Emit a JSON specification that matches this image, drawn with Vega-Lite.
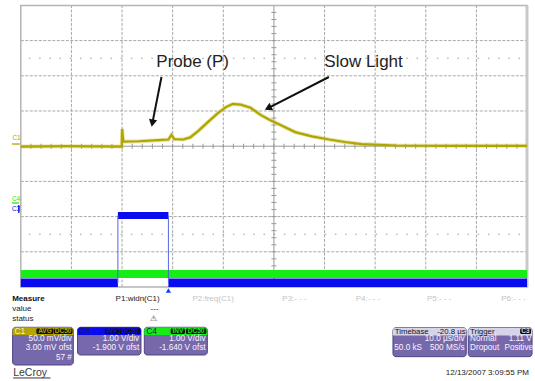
{
  "$schema": "https://vega.github.io/schema/vega-lite/v6.json",
  "width": 535,
  "height": 381,
  "padding": 0,
  "autosize": {"type": "fit", "contains": "padding"},
  "background": "white",
  "config": {"view": {"stroke": null}, "text": {"font": "Liberation Sans"}},
  "datasets": {
    "vgrid": [{"t": -19.2}, {"t": -9.2}, {"t": 0.8}, {"t": 10.8}, {"t": 30.8}, {"t": 40.8}, {"t": 50.8}, {"t": 60.8}],
    "hgrid": [{"v": -3}, {"v": -2}, {"v": -1}, {"v": 1}, {"v": 2}, {"v": 3}],
    "refs": [{"v": 2.5}, {"v": -2.5}],
    "xticks": [{"t": -27.2}, {"t": -25.2}, {"t": -23.2}, {"t": -21.2}, {"t": -19.2}, {"t": -17.2}, {"t": -15.2}, {"t": -13.2}, {"t": -11.2}, {"t": -9.2}, {"t": -7.2}, {"t": -5.2}, {"t": -3.2}, {"t": -1.2}, {"t": 0.8}, {"t": 2.8}, {"t": 4.8}, {"t": 6.8}, {"t": 8.8}, {"t": 10.8}, {"t": 12.8}, {"t": 14.8}, {"t": 16.8}, {"t": 18.8}, {"t": 20.8}, {"t": 22.8}, {"t": 24.8}, {"t": 26.8}, {"t": 28.8}, {"t": 30.8}, {"t": 32.8}, {"t": 34.8}, {"t": 36.8}, {"t": 38.8}, {"t": 40.8}, {"t": 42.8}, {"t": 44.8}, {"t": 46.8}, {"t": 48.8}, {"t": 50.8}, {"t": 52.8}, {"t": 54.8}, {"t": 56.8}, {"t": 58.8}, {"t": 60.8}, {"t": 62.8}, {"t": 64.8}, {"t": 66.8}, {"t": 68.8}],
    "yticks": [{"v": -3.8}, {"v": -3.6}, {"v": -3.4}, {"v": -3.2}, {"v": -3.0}, {"v": -2.8}, {"v": -2.6}, {"v": -2.4}, {"v": -2.2}, {"v": -2.0}, {"v": -1.8}, {"v": -1.6}, {"v": -1.4}, {"v": -1.2}, {"v": -1.0}, {"v": -0.8}, {"v": -0.6}, {"v": -0.4}, {"v": -0.2}, {"v": 0.2}, {"v": 0.4}, {"v": 0.6}, {"v": 0.8}, {"v": 1.0}, {"v": 1.2}, {"v": 1.4}, {"v": 1.6}, {"v": 1.8}, {"v": 2.0}, {"v": 2.2}, {"v": 2.4}, {"v": 2.6}, {"v": 2.8}, {"v": 3.0}, {"v": 3.2}, {"v": 3.4}, {"v": 3.6}, {"v": 3.8}],
    "yellow": [
      {"t": -29.2, "v": -0.01}, {"t": -20.0, "v": 0.0}, {"t": -9.25, "v": -0.01}, {"t": -9.18, "v": 0.49}, {"t": -8.95, "v": 0.13},
      {"t": -5.91, "v": 0.14}, {"t": -2.0, "v": 0.17}, {"t": -0.04, "v": 0.19}, {"t": 0.55, "v": 0.32}, {"t": 1.13, "v": 0.2},
      {"t": 2.89, "v": 0.19}, {"t": 4.26, "v": 0.25}, {"t": 5.83, "v": 0.43}, {"t": 7.79, "v": 0.69}, {"t": 9.74, "v": 0.94},
      {"t": 11.31, "v": 1.11}, {"t": 12.68, "v": 1.2}, {"t": 14.24, "v": 1.18}, {"t": 16.2, "v": 1.09}, {"t": 18.16, "v": 0.89},
      {"t": 20.1, "v": 0.74}, {"t": 22.1, "v": 0.6}, {"t": 25.0, "v": 0.4}, {"t": 28.3, "v": 0.28}, {"t": 31.7, "v": 0.19},
      {"t": 34.8, "v": 0.12}, {"t": 38.1, "v": 0.06}, {"t": 45.0, "v": 0.02}, {"t": 54.8, "v": 0.01}, {"t": 70.8, "v": 0.01}
    ],
    "bands": [
      {"ch": "C4", "t": -29.2, "t2": 70.8, "v": -3.517, "v2": -3.744},
      {"ch": "C3", "t": -29.2, "t2": -10.02, "v": -3.758, "v2": -4.0},
      {"ch": "C3", "t": -0.04, "t2": 70.8, "v": -3.758, "v2": -4.0},
      {"ch": "C3", "t": -10.02, "t2": -0.04, "v": -1.869, "v2": -2.068}
    ],
    "edges": [{"t": -10.02, "v": -3.88, "v2": -1.97}, {"t": -0.04, "v": -3.88, "v2": -1.97}],
    "markers": [
      {"ch": "C1", "t": -30.96, "t2": -29.4, "v": 0.062, "v2": 0.062},
      {"ch": "C4", "t": -30.96, "t2": -29.59, "v": -1.614, "v2": -1.614},
      {"ch": "C3", "t": -29.59, "t2": -29.59, "v": -1.67, "v2": -1.898}
    ],
    "chlabels": [
      {"label": "C1", "ch": "C1", "t": -30.86, "v": 0.176},
      {"label": "C4", "ch": "C4", "t": -30.96, "v": -1.557},
      {"label": "C3", "ch": "C3", "t": -30.96, "v": -1.841}
    ],
    "notes": [
      {"label": "Probe (P)", "t": 4.75, "v": 2.241},
      {"label": "Slow Light", "t": 38.51, "v": 2.241}
    ],
    "arrows": [
      {"t": -1.41, "v": 1.966, "t2": -3.21, "v2": 0.656},
      {"t": 31.66, "v": 1.966, "t2": 19.65, "v2": 1.079}
    ],
    "boxes": [
      {"t": -30.82, "t2": -18.83, "v": -5.145, "v2": -6.216},
      {"t": -17.99, "t2": -5.46, "v": -5.145, "v2": -5.932},
      {"t": -4.8, "t2": 7.65, "v": -5.145, "v2": -5.932},
      {"t": 44.32, "t2": 58.8, "v": -5.156, "v2": -5.98},
      {"t": 59.19, "t2": 71.8, "v": -5.156, "v2": -5.98}
    ],
    "heads": [
      {"ch": "C1", "t": -30.82, "t2": -18.83, "v": -5.145, "v2": -5.364},
      {"ch": "C3", "t": -17.99, "t2": -5.46, "v": -5.145, "v2": -5.364},
      {"ch": "C4", "t": -4.8, "t2": 7.65, "v": -5.145, "v2": -5.364},
      {"ch": "TB", "t": 44.32, "t2": 58.8, "v": -5.156, "v2": -5.378},
      {"ch": "TB", "t": 59.19, "t2": 71.8, "v": -5.156, "v2": -5.378}
    ],
    "tags": [
      {"t": -26.13, "t2": -22.74}, {"t": -22.68, "t2": -18.98},
      {"t": -12.62, "t2": -9.83}, {"t": -9.69, "t2": -5.62},
      {"t": 0.41, "t2": 3.23}, {"t": 3.42, "t2": 7.45},
      {"t": 69.43, "t2": 71.6}
    ],
    "tagtext": [
      {"label": "AVG", "ch": "C1", "t": -24.43}, {"label": "DC50", "ch": "C1", "t": -20.83},
      {"label": "INV", "ch": "C3", "t": -11.22}, {"label": "DC50", "ch": "C3", "t": -7.65},
      {"label": "INV", "ch": "C4", "t": 1.82}, {"label": "DC50", "ch": "C4", "t": 5.43},
      {"label": "C3", "ch": "TB", "t": 70.5}
    ],
    "hdr_c1": [{"label": "C1", "t": -30.47, "v": -5.25}],
    "hdr_c34": [{"label": "C3", "t": -17.65, "v": -5.25}, {"label": "C4", "t": -4.44, "v": -5.25}],
    "hdr_tb_left": [{"label": "Timebase", "t": 44.67, "v": -5.267}, {"label": "Trigger", "t": 59.55, "v": -5.267}],
    "hdr_tb_right": [{"label": "-20.8 µs", "t": 58.67, "v": -5.267}],
    "body_right": [
      {"label": "50.0 mV/div", "t": -19.12, "v": -5.486}, {"label": "3.00 mV ofst", "t": -19.12, "v": -5.741}, {"label": "57 #", "t": -19.12, "v": -6.025},
      {"label": "1.00 V/div", "t": -5.81, "v": -5.486}, {"label": "-1.900 V ofst", "t": -5.81, "v": -5.741},
      {"label": "1.00 V/div", "t": 7.3, "v": -5.486}, {"label": "-1.640 V ofst", "t": 7.3, "v": -5.741},
      {"label": "10.0 µs/div", "t": 58.46, "v": -5.486}, {"label": "500 MS/s", "t": 58.46, "v": -5.741},
      {"label": "1.11 V", "t": 71.75, "v": -5.486}, {"label": "Positive", "t": 72.0, "v": -5.741}
    ],
    "body_left": [
      {"label": "50.0 kS", "t": 44.58, "v": -5.741}, {"label": "Normal", "t": 59.55, "v": -5.486}, {"label": "Dropout", "t": 59.55, "v": -5.741}
    ],
    "measure": [{"label": "Measure", "t": -30.9, "v": -4.35}],
    "ptext_dark": [
      {"label": "value", "t": -30.9, "v": -4.634}, {"label": "status", "t": -30.9, "v": -4.918},
      {"label": "P1:widn(C1)", "t": -10.47, "v": -4.35}, {"label": "---", "t": -3.56, "v": -4.634}
    ],
    "ptext_gray": [
      {"label": "P2:freq(C1)", "t": 4.71, "v": -4.35}, {"label": "P3:- - -", "t": 22.46, "v": -4.35},
      {"label": "P4:- - -", "t": 36.95, "v": -4.35}, {"label": "P5:- - -", "t": 51.03, "v": -4.35},
      {"label": "P6:- - -", "t": 65.71, "v": -4.35}
    ],
    "warn": [{"label": "⚠", "t": -2.98, "v": -4.918}],
    "logo": [{"label": "LeCroy", "t": -30.71, "v": -6.435}],
    "logoline": [{"t": -30.71, "t2": -23.33, "v": -6.585}],
    "date": [{"label": "12/13/2007 3:09:55 PM", "t": 71.19, "v": -6.452}],
    "trig": [{"t": -0.04, "v": -4.099}],
    "frame": [{"t": -29.2, "t2": 70.8, "v": -4, "v2": 4}]
  },
  "layer": [
    {
      "data": {"name": "vgrid"},
      "mark": {"type": "rule", "color": "#a8a8a8", "strokeWidth": 1, "strokeDash": [3, 1.5]},
      "encoding": {
        "x": {"field": "t", "type": "quantitative", "scale": {"domain": [-33.31, 71.39], "nice": false, "zero": false}, "axis": null},
        "y": {"datum": -4, "type": "quantitative", "scale": {"domain": [-6.671, 4.1534], "nice": false, "zero": false}, "axis": null},
        "y2": {"datum": 4}
      }
    },
    {
      "data": {"name": "hgrid"},
      "mark": {"type": "rule", "color": "#a8a8a8", "strokeWidth": 1, "strokeDash": [3, 1.5]},
      "encoding": {
        "y": {"field": "v", "type": "quantitative", "scale": {"domain": [-6.671, 4.1534], "nice": false, "zero": false}, "axis": null},
        "x": {"datum": -29.2, "type": "quantitative", "scale": {"domain": [-33.31, 71.39], "nice": false, "zero": false}, "axis": null},
        "x2": {"datum": 70.8}
      }
    },
    {
      "data": {"name": "refs"},
      "mark": {"type": "rule", "color": "#9a9a9a", "strokeWidth": 1, "strokeDash": [1.5, 8.7]},
      "encoding": {
        "y": {"field": "v", "type": "quantitative", "scale": {"domain": [-6.671, 4.1534], "nice": false, "zero": false}, "axis": null},
        "x": {"datum": -27.6, "type": "quantitative", "scale": {"domain": [-33.31, 71.39], "nice": false, "zero": false}, "axis": null},
        "x2": {"datum": 70.8}
      }
    },
    {
      "data": {"values": [{"t": 20.8}]},
      "mark": {"type": "rule", "color": "#999999", "strokeWidth": 1},
      "encoding": {
        "x": {"field": "t", "type": "quantitative", "scale": {"domain": [-33.31, 71.39], "nice": false, "zero": false}, "axis": null},
        "y": {"datum": -4, "type": "quantitative", "scale": {"domain": [-6.671, 4.1534], "nice": false, "zero": false}, "axis": null},
        "y2": {"datum": 4}
      }
    },
    {
      "data": {"values": [{"v": 0}]},
      "mark": {"type": "rule", "color": "#999999", "strokeWidth": 1},
      "encoding": {
        "y": {"field": "v", "type": "quantitative", "scale": {"domain": [-6.671, 4.1534], "nice": false, "zero": false}, "axis": null},
        "x": {"datum": -29.2, "type": "quantitative", "scale": {"domain": [-33.31, 71.39], "nice": false, "zero": false}, "axis": null},
        "x2": {"datum": 70.8}
      }
    },
    {
      "data": {"name": "xticks"},
      "mark": {"type": "tick", "orient": "vertical", "size": 5, "thickness": 1, "color": "#999999", "opacity": 1},
      "encoding": {
        "x": {"field": "t", "type": "quantitative", "scale": {"domain": [-33.31, 71.39], "nice": false, "zero": false}, "axis": null},
        "y": {"datum": 0, "type": "quantitative", "scale": {"domain": [-6.671, 4.1534], "nice": false, "zero": false}, "axis": null}
      }
    },
    {
      "data": {"name": "yticks"},
      "mark": {"type": "tick", "orient": "horizontal", "size": 5, "thickness": 1, "color": "#999999", "opacity": 1},
      "encoding": {
        "y": {"field": "v", "type": "quantitative", "scale": {"domain": [-6.671, 4.1534], "nice": false, "zero": false}, "axis": null},
        "x": {"datum": 20.8, "type": "quantitative", "scale": {"domain": [-33.31, 71.39], "nice": false, "zero": false}, "axis": null}
      }
    },
    {
      "data": {"name": "frame"},
      "mark": {"type": "rect", "fill": null, "stroke": "#b4b4b4", "strokeWidth": 1.5},
      "encoding": {
        "x": {"field": "t", "type": "quantitative", "scale": {"domain": [-33.31, 71.39], "nice": false, "zero": false}, "axis": null},
        "x2": {"field": "t2"},
        "y": {"field": "v", "type": "quantitative", "scale": {"domain": [-6.671, 4.1534], "nice": false, "zero": false}, "axis": null},
        "y2": {"field": "v2"}
      }
    },
    {
      "data": {"name": "frame"},
      "mark": {"type": "rule", "color": "#c8c8c8", "strokeWidth": 3},
      "encoding": {
        "x": {"field": "t2", "type": "quantitative", "scale": {"domain": [-33.31, 71.39], "nice": false, "zero": false}, "axis": null},
        "y": {"field": "v", "type": "quantitative", "scale": {"domain": [-6.671, 4.1534], "nice": false, "zero": false}, "axis": null},
        "y2": {"field": "v2"}
      }
    },
    {
      "data": {"name": "bands"},
      "mark": {"type": "rect"},
      "encoding": {
        "x": {"field": "t", "type": "quantitative", "scale": {"domain": [-33.31, 71.39], "nice": false, "zero": false}, "axis": null},
        "x2": {"field": "t2"},
        "y": {"field": "v", "type": "quantitative", "scale": {"domain": [-6.671, 4.1534], "nice": false, "zero": false}, "axis": null},
        "y2": {"field": "v2"},
        "color": {"field": "ch", "type": "nominal", "scale": {"domain": ["C1", "C3", "C4", "TB"], "range": ["#b4a500", "#0a0af0", "#14ee14", "#d6d4ea"]}, "legend": null}
      }
    },
    {
      "data": {"name": "edges"},
      "mark": {"type": "rule", "color": "#5566dd", "strokeWidth": 1},
      "encoding": {
        "x": {"field": "t", "type": "quantitative", "scale": {"domain": [-33.31, 71.39], "nice": false, "zero": false}, "axis": null},
        "y": {"field": "v", "type": "quantitative", "scale": {"domain": [-6.671, 4.1534], "nice": false, "zero": false}, "axis": null},
        "y2": {"field": "v2"}
      }
    },
    {
      "data": {"name": "yellow"},
      "mark": {"type": "line", "color": "#c8c040", "strokeWidth": 4, "opacity": 0.45},
      "encoding": {
        "x": {"field": "t", "type": "quantitative", "scale": {"domain": [-33.31, 71.39], "nice": false, "zero": false}, "axis": null},
        "y": {"field": "v", "type": "quantitative", "scale": {"domain": [-6.671, 4.1534], "nice": false, "zero": false}, "axis": null}
      }
    },
    {
      "data": {"name": "yellow"},
      "mark": {"type": "line", "color": "#b0a600", "strokeWidth": 2.2},
      "encoding": {
        "x": {"field": "t", "type": "quantitative", "scale": {"domain": [-33.31, 71.39], "nice": false, "zero": false}, "axis": null},
        "y": {"field": "v", "type": "quantitative", "scale": {"domain": [-6.671, 4.1534], "nice": false, "zero": false}, "axis": null}
      }
    },
    {
      "data": {"name": "markers"},
      "mark": {"type": "rule", "strokeWidth": 1.3},
      "encoding": {
        "x": {"field": "t", "type": "quantitative", "scale": {"domain": [-33.31, 71.39], "nice": false, "zero": false}, "axis": null},
        "x2": {"field": "t2"},
        "y": {"field": "v", "type": "quantitative", "scale": {"domain": [-6.671, 4.1534], "nice": false, "zero": false}, "axis": null},
        "y2": {"field": "v2"},
        "color": {"field": "ch", "type": "nominal", "scale": {"domain": ["C1", "C3", "C4", "TB"], "range": ["#b4a500", "#0a0af0", "#14ee14", "#d6d4ea"]}, "legend": null}
      }
    },
    {
      "data": {"name": "chlabels"},
      "mark": {"type": "text", "fontSize": 6.5, "align": "left", "baseline": "alphabetic"},
      "encoding": {
        "x": {"field": "t", "type": "quantitative", "scale": {"domain": [-33.31, 71.39], "nice": false, "zero": false}, "axis": null},
        "y": {"field": "v", "type": "quantitative", "scale": {"domain": [-6.671, 4.1534], "nice": false, "zero": false}, "axis": null},
        "text": {"field": "label"},
        "color": {"field": "ch", "type": "nominal", "scale": {"domain": ["C1", "C3", "C4", "TB"], "range": ["#b4a500", "#0a0af0", "#14ee14", "#d6d4ea"]}, "legend": null}
      }
    },
    {
      "data": {"name": "trig"},
      "mark": {"type": "point", "shape": "triangle-up", "filled": true, "size": 28, "color": "#1040ff", "opacity": 1},
      "encoding": {
        "x": {"field": "t", "type": "quantitative", "scale": {"domain": [-33.31, 71.39], "nice": false, "zero": false}, "axis": null},
        "y": {"field": "v", "type": "quantitative", "scale": {"domain": [-6.671, 4.1534], "nice": false, "zero": false}, "axis": null}
      }
    },
    {
      "data": {"name": "notes"},
      "mark": {"type": "text", "fontSize": 17, "align": "center", "baseline": "alphabetic", "color": "#222222"},
      "encoding": {
        "x": {"field": "t", "type": "quantitative", "scale": {"domain": [-33.31, 71.39], "nice": false, "zero": false}, "axis": null},
        "y": {"field": "v", "type": "quantitative", "scale": {"domain": [-6.671, 4.1534], "nice": false, "zero": false}, "axis": null},
        "text": {"field": "label"}
      }
    },
    {
      "data": {"name": "arrows"},
      "mark": {"type": "rule", "color": "#111111", "strokeWidth": 2},
      "encoding": {
        "x": {"field": "t", "type": "quantitative", "scale": {"domain": [-33.31, 71.39], "nice": false, "zero": false}, "axis": null},
        "x2": {"field": "t2"},
        "y": {"field": "v", "type": "quantitative", "scale": {"domain": [-6.671, 4.1534], "nice": false, "zero": false}, "axis": null},
        "y2": {"field": "v2"}
      }
    },
    {
      "data": {"values": [{"t": -3.21, "v": 0.656}]},
      "mark": {"type": "point", "shape": "triangle-up", "filled": true, "size": 70, "angle": 191, "color": "#111111", "opacity": 1},
      "encoding": {
        "x": {"field": "t", "type": "quantitative", "scale": {"domain": [-33.31, 71.39], "nice": false, "zero": false}, "axis": null},
        "y": {"field": "v", "type": "quantitative", "scale": {"domain": [-6.671, 4.1534], "nice": false, "zero": false}, "axis": null}
      }
    },
    {
      "data": {"values": [{"t": 19.65, "v": 1.079}]},
      "mark": {"type": "point", "shape": "triangle-up", "filled": true, "size": 70, "angle": 243, "color": "#111111", "opacity": 1},
      "encoding": {
        "x": {"field": "t", "type": "quantitative", "scale": {"domain": [-33.31, 71.39], "nice": false, "zero": false}, "axis": null},
        "y": {"field": "v", "type": "quantitative", "scale": {"domain": [-6.671, 4.1534], "nice": false, "zero": false}, "axis": null}
      }
    },
    {
      "data": {"name": "boxes"},
      "mark": {"type": "rect", "fill": "#7668aa", "stroke": "#4e4585", "strokeWidth": 1, "cornerRadius": 3},
      "encoding": {
        "x": {"field": "t", "type": "quantitative", "scale": {"domain": [-33.31, 71.39], "nice": false, "zero": false}, "axis": null},
        "x2": {"field": "t2"},
        "y": {"field": "v", "type": "quantitative", "scale": {"domain": [-6.671, 4.1534], "nice": false, "zero": false}, "axis": null},
        "y2": {"field": "v2"}
      }
    },
    {
      "data": {"name": "heads"},
      "mark": {"type": "rect", "cornerRadiusTopLeft": 3, "cornerRadiusTopRight": 3},
      "encoding": {
        "x": {"field": "t", "type": "quantitative", "scale": {"domain": [-33.31, 71.39], "nice": false, "zero": false}, "axis": null},
        "x2": {"field": "t2"},
        "y": {"field": "v", "type": "quantitative", "scale": {"domain": [-6.671, 4.1534], "nice": false, "zero": false}, "axis": null},
        "y2": {"field": "v2"},
        "color": {"field": "ch", "type": "nominal", "scale": {"domain": ["C1", "C3", "C4", "TB"], "range": ["#b4a500", "#0a0af0", "#14ee14", "#d6d4ea"]}, "legend": null}
      }
    },
    {
      "data": {"name": "tags"},
      "mark": {"type": "rect", "fill": "#111111", "cornerRadius": 1.5},
      "encoding": {
        "x": {"field": "t", "type": "quantitative", "scale": {"domain": [-33.31, 71.39], "nice": false, "zero": false}, "axis": null},
        "x2": {"field": "t2"},
        "y": {"datum": -5.179, "type": "quantitative", "scale": {"domain": [-6.671, 4.1534], "nice": false, "zero": false}, "axis": null},
        "y2": {"datum": -5.335}
      }
    },
    {
      "data": {"name": "tagtext"},
      "mark": {"type": "text", "fontSize": 6.5, "fontWeight": "bold", "align": "center", "baseline": "middle"},
      "encoding": {
        "x": {"field": "t", "type": "quantitative", "scale": {"domain": [-33.31, 71.39], "nice": false, "zero": false}, "axis": null},
        "y": {"datum": -5.257, "type": "quantitative", "scale": {"domain": [-6.671, 4.1534], "nice": false, "zero": false}, "axis": null},
        "text": {"field": "label"},
        "color": {"field": "ch", "type": "nominal", "scale": {"domain": ["C1", "C3", "C4", "TB"], "range": ["#b4a500", "#0a0af0", "#14ee14", "#d6d4ea"]}, "legend": null}
      }
    },
    {
      "data": {"name": "hdr_c1"},
      "mark": {"type": "text", "fontSize": 8.5, "align": "left", "baseline": "middle", "color": "#f4f0cc"},
      "encoding": {
        "x": {"field": "t", "type": "quantitative", "scale": {"domain": [-33.31, 71.39], "nice": false, "zero": false}, "axis": null},
        "y": {"field": "v", "type": "quantitative", "scale": {"domain": [-6.671, 4.1534], "nice": false, "zero": false}, "axis": null},
        "text": {"field": "label"}
      }
    },
    {
      "data": {"name": "hdr_c34"},
      "mark": {"type": "text", "fontSize": 8.5, "align": "left", "baseline": "middle", "color": "#1c1c50"},
      "encoding": {
        "x": {"field": "t", "type": "quantitative", "scale": {"domain": [-33.31, 71.39], "nice": false, "zero": false}, "axis": null},
        "y": {"field": "v", "type": "quantitative", "scale": {"domain": [-6.671, 4.1534], "nice": false, "zero": false}, "axis": null},
        "text": {"field": "label"}
      }
    },
    {
      "data": {"name": "hdr_tb_left"},
      "mark": {"type": "text", "fontSize": 7.8, "align": "left", "baseline": "middle", "color": "#111111"},
      "encoding": {
        "x": {"field": "t", "type": "quantitative", "scale": {"domain": [-33.31, 71.39], "nice": false, "zero": false}, "axis": null},
        "y": {"field": "v", "type": "quantitative", "scale": {"domain": [-6.671, 4.1534], "nice": false, "zero": false}, "axis": null},
        "text": {"field": "label"}
      }
    },
    {
      "data": {"name": "hdr_tb_right"},
      "mark": {"type": "text", "fontSize": 7.8, "align": "right", "baseline": "middle", "color": "#111111"},
      "encoding": {
        "x": {"field": "t", "type": "quantitative", "scale": {"domain": [-33.31, 71.39], "nice": false, "zero": false}, "axis": null},
        "y": {"field": "v", "type": "quantitative", "scale": {"domain": [-6.671, 4.1534], "nice": false, "zero": false}, "axis": null},
        "text": {"field": "label"}
      }
    },
    {
      "data": {"name": "body_right"},
      "mark": {"type": "text", "fontSize": 8.2, "align": "right", "baseline": "middle", "color": "#f6f6ff"},
      "encoding": {
        "x": {"field": "t", "type": "quantitative", "scale": {"domain": [-33.31, 71.39], "nice": false, "zero": false}, "axis": null},
        "y": {"field": "v", "type": "quantitative", "scale": {"domain": [-6.671, 4.1534], "nice": false, "zero": false}, "axis": null},
        "text": {"field": "label"}
      }
    },
    {
      "data": {"name": "body_left"},
      "mark": {"type": "text", "fontSize": 8.2, "align": "left", "baseline": "middle", "color": "#f6f6ff"},
      "encoding": {
        "x": {"field": "t", "type": "quantitative", "scale": {"domain": [-33.31, 71.39], "nice": false, "zero": false}, "axis": null},
        "y": {"field": "v", "type": "quantitative", "scale": {"domain": [-6.671, 4.1534], "nice": false, "zero": false}, "axis": null},
        "text": {"field": "label"}
      }
    },
    {
      "data": {"name": "measure"},
      "mark": {"type": "text", "fontSize": 8, "fontWeight": "bold", "align": "left", "baseline": "middle", "color": "#111111"},
      "encoding": {
        "x": {"field": "t", "type": "quantitative", "scale": {"domain": [-33.31, 71.39], "nice": false, "zero": false}, "axis": null},
        "y": {"field": "v", "type": "quantitative", "scale": {"domain": [-6.671, 4.1534], "nice": false, "zero": false}, "axis": null},
        "text": {"field": "label"}
      }
    },
    {
      "data": {"name": "ptext_dark"},
      "mark": {"type": "text", "fontSize": 8, "align": "left", "baseline": "middle", "color": "#222222"},
      "encoding": {
        "x": {"field": "t", "type": "quantitative", "scale": {"domain": [-33.31, 71.39], "nice": false, "zero": false}, "axis": null},
        "y": {"field": "v", "type": "quantitative", "scale": {"domain": [-6.671, 4.1534], "nice": false, "zero": false}, "axis": null},
        "text": {"field": "label"}
      }
    },
    {
      "data": {"name": "ptext_gray"},
      "mark": {"type": "text", "fontSize": 8, "align": "left", "baseline": "middle", "color": "#c4c4c4"},
      "encoding": {
        "x": {"field": "t", "type": "quantitative", "scale": {"domain": [-33.31, 71.39], "nice": false, "zero": false}, "axis": null},
        "y": {"field": "v", "type": "quantitative", "scale": {"domain": [-6.671, 4.1534], "nice": false, "zero": false}, "axis": null},
        "text": {"field": "label"}
      }
    },
    {
      "data": {"name": "warn"},
      "mark": {"type": "text", "fontSize": 8, "font": "DejaVu Sans", "align": "center", "baseline": "middle", "color": "#444444"},
      "encoding": {
        "x": {"field": "t", "type": "quantitative", "scale": {"domain": [-33.31, 71.39], "nice": false, "zero": false}, "axis": null},
        "y": {"field": "v", "type": "quantitative", "scale": {"domain": [-6.671, 4.1534], "nice": false, "zero": false}, "axis": null},
        "text": {"field": "label"}
      }
    },
    {
      "data": {"name": "logo"},
      "mark": {"type": "text", "fontSize": 10.5, "align": "left", "baseline": "middle", "color": "#3a3a3a"},
      "encoding": {
        "x": {"field": "t", "type": "quantitative", "scale": {"domain": [-33.31, 71.39], "nice": false, "zero": false}, "axis": null},
        "y": {"field": "v", "type": "quantitative", "scale": {"domain": [-6.671, 4.1534], "nice": false, "zero": false}, "axis": null},
        "text": {"field": "label"}
      }
    },
    {
      "data": {"name": "logoline"},
      "mark": {"type": "rule", "color": "#3a3a3a", "strokeWidth": 1},
      "encoding": {
        "x": {"field": "t", "type": "quantitative", "scale": {"domain": [-33.31, 71.39], "nice": false, "zero": false}, "axis": null},
        "x2": {"field": "t2"},
        "y": {"field": "v", "type": "quantitative", "scale": {"domain": [-6.671, 4.1534], "nice": false, "zero": false}, "axis": null}
      }
    },
    {
      "data": {"name": "date"},
      "mark": {"type": "text", "fontSize": 8, "align": "right", "baseline": "middle", "color": "#222222"},
      "encoding": {
        "x": {"field": "t", "type": "quantitative", "scale": {"domain": [-33.31, 71.39], "nice": false, "zero": false}, "axis": null},
        "y": {"field": "v", "type": "quantitative", "scale": {"domain": [-6.671, 4.1534], "nice": false, "zero": false}, "axis": null},
        "text": {"field": "label"}
      }
    }
  ]
}
